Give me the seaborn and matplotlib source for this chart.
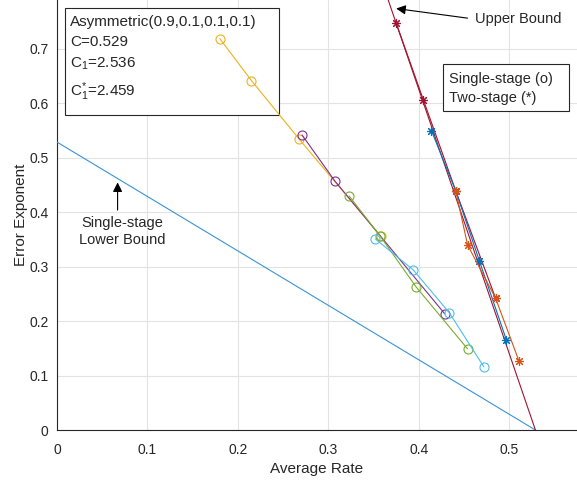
import matplotlib
matplotlib.use("Agg")
import matplotlib.pyplot as plt
import matplotlib.patches as patches
import seaborn as sns
import pandas as pd

# ---------------- data ----------------
single_yellow_x = [0.180, 0.215, 0.268, 0.358]
single_yellow_y = [0.719, 0.642, 0.534, 0.356]
single_purple_x = [0.271, 0.307, 0.429]
single_purple_y = [0.542, 0.458, 0.213]
single_green_x = [0.323, 0.357, 0.397, 0.454]
single_green_y = [0.430, 0.357, 0.263, 0.149]
single_cyan_x = [0.352, 0.394, 0.434, 0.472]
single_cyan_y = [0.351, 0.294, 0.215, 0.116]

two_red_x = [0.375, 0.405, 0.441, 0.485]
two_red_y = [0.748, 0.607, 0.439, 0.242]
two_blue_x = [0.414, 0.441, 0.467, 0.497]
two_blue_y = [0.550, 0.439, 0.311, 0.165]
two_orange_x = [0.441, 0.454, 0.485, 0.511]
two_orange_y = [0.439, 0.340, 0.242, 0.126]

upper_x = [0.358, 0.529]
upper_y = [0.830, 0.0]
lower_x = [0.0, 0.529]
lower_y = [0.529, 0.0]

x_ticks = [0, 0.1, 0.2, 0.3, 0.4, 0.5]
y_ticks = [0, 0.1, 0.2, 0.3, 0.4, 0.5, 0.6, 0.7]

# ---------------- style ----------------
sns.set_style("whitegrid")
plt.rcParams['font.family'] = ['Liberation Sans', 'DejaVu Sans']
plt.rcParams['mathtext.fontset'] = 'custom'
plt.rcParams['mathtext.rm'] = 'Liberation Sans'
plt.rcParams['mathtext.it'] = 'Liberation Sans:italic'
plt.rcParams['mathtext.bf'] = 'Liberation Sans:bold'

TXT = '#262626'
fig, ax = plt.subplots(figsize=(5.77, 4.8), dpi=100)
ax.set_position([57 / 577, 50 / 480, 520 / 577, 430 / 480])
ax.set_facecolor('white')


def draw(x, y, color, marker, ms, lw=0.8, zorder=3):
    df = pd.DataFrame({'Average Rate': x, 'Error Exponent': y})
    kw = dict(marker=marker, markersize=ms, markerfacecolor='none',
              markeredgecolor=color, markeredgewidth=0.8)
    if marker is None:
        kw = {}
    sns.lineplot(data=df, x='Average Rate', y='Error Exponent', sort=False,
                 estimator=None, color=color, linewidth=lw, ax=ax,
                 zorder=zorder, **kw)


draw(lower_x, lower_y, '#3A93D5', None, 0)
draw(upper_x, upper_y, '#A2142F', None, 0)
draw(single_yellow_x, single_yellow_y, '#EDB120', 'o', 6.5)
draw(single_purple_x, single_purple_y, '#7E2F8E', 'o', 6.5)
draw(single_green_x, single_green_y, '#77AC30', 'o', 6.5)
draw(single_cyan_x, single_cyan_y, '#4DBEEE', 'o', 6.5)
draw(two_red_x, two_red_y, '#A2142F', (8, 2, 0), 6.5)
draw(two_blue_x, two_blue_y, '#0072BD', (8, 2, 0), 6.5)
draw(two_orange_x, two_orange_y, '#D95319', (8, 2, 0), 6.5)

ax.set_xlim(0, 0.575)
ax.set_ylim(0, 0.79)
ax.set_xticks(x_ticks)
ax.set_xticklabels([f'{t:g}' for t in x_ticks])
ax.set_yticks(y_ticks)
ax.set_yticklabels([f'{t:g}' for t in y_ticks])
ax.grid(True, color='#E3E3E3', linewidth=0.8)
ax.set_axisbelow(True)
for s in ['top', 'right']:
    ax.spines[s].set_visible(False)
for s in ['left', 'bottom']:
    ax.spines[s].set_color(TXT)
    ax.spines[s].set_linewidth(0.8)
ax.tick_params(direction='in', length=4, width=0.8, colors=TXT,
               labelsize=10)
ax.tick_params(axis='x', pad=9)
ax.tick_params(axis='y', pad=6)
ax.set_xlabel('Average Rate', fontsize=11, color=TXT, labelpad=4)
ax.set_ylabel('Error Exponent', fontsize=11, color=TXT, labelpad=1)

# parameter box (drawn beneath the data lines)
ax.add_patch(patches.Rectangle((0.009, 0.579), 0.237, 0.196,
                               transform=ax.transData, facecolor='white',
                               edgecolor=TXT, linewidth=0.8, zorder=1.5))
box_x = 0.0145
ax.text(box_x, 0.750, 'Asymmetric(0.9,0.1,0.1,0.1)', fontsize=11,
        color=TXT, va='center', ha='left', zorder=6)
ax.text(box_x, 0.713, 'C=0.529', fontsize=11, color=TXT, va='center',
        ha='left', zorder=6)
ax.text(box_x, 0.672, r'C$_\mathregular{1}$=2.536', fontsize=11, color=TXT,
        va='center', ha='left', zorder=6)
ax.text(box_x, 0.622, r'C$^\mathregular{*}_\mathregular{1}$=2.459',
        fontsize=11, color=TXT, va='center', ha='left', zorder=6)

# stage legend box
ax.add_patch(patches.Rectangle((0.427, 0.586), 0.139, 0.087,
                               transform=ax.transData, facecolor='white',
                               edgecolor=TXT, linewidth=0.8, zorder=5))
ax.text(0.434, 0.645, 'Single-stage (o)', fontsize=10.5, color=TXT,
        va='center', ha='left', zorder=6)
ax.text(0.434, 0.610, 'Two-stage (*)', fontsize=10.5, color=TXT,
        va='center', ha='left', zorder=6)

# annotations
ax.annotate('', xy=(0.372, 0.775), xytext=(0.457, 0.756),
            arrowprops=dict(arrowstyle='-|>', color='black', lw=0.8,
                            mutation_scale=14), zorder=6)
ax.text(0.462, 0.756, 'Upper Bound', fontsize=10.5, color=TXT,
        va='center', ha='left', zorder=6)
ax.annotate('', xy=(0.067, 0.460), xytext=(0.067, 0.399),
            arrowprops=dict(arrowstyle='-|>', color='black', lw=0.8,
                            mutation_scale=14), zorder=6)
ax.text(0.072, 0.393, 'Single-stage\nLower Bound', fontsize=10.5,
        color=TXT, va='top', ha='center', linespacing=1.25, zorder=6)

fig.savefig('out.png', dpi=100, facecolor='white')
